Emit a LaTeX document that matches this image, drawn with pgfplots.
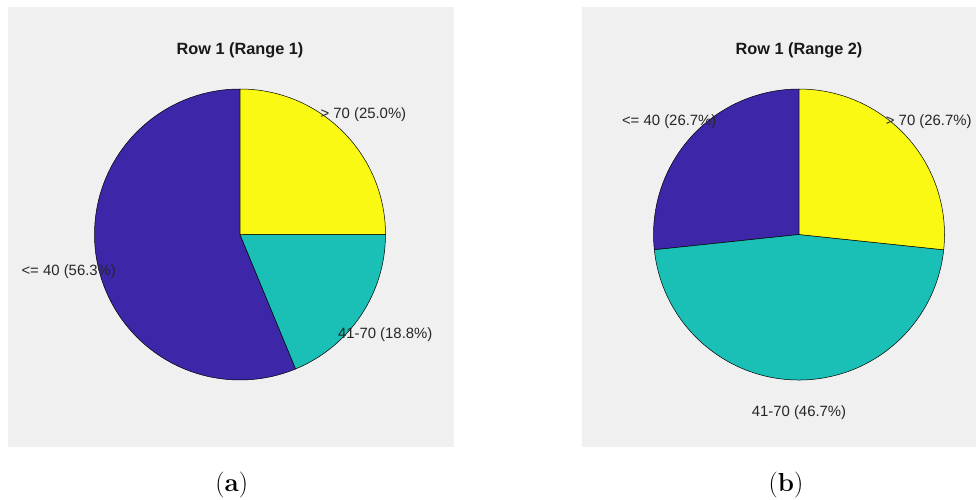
\documentclass[border=0pt]{standalone}
\usepackage{fontspec}
\usepackage{pgfplots}
\usepackage{pgfplotstable}
\pgfplotsset{compat=1.18}

\newfontfamily\arial{Liberation Sans}

\definecolor{panelgray}{HTML}{F0F0F0}
\definecolor{pieA}{HTML}{3D26A8}
\definecolor{pieB}{HTML}{1ABFB6}
\definecolor{pieC}{HTML}{F9F914}

% share of each age group, in per cent
\pgfplotstableread[col sep=comma]{
name,pct,colour
<= 40,56.3,pieA
41-70,18.8,pieB
> 70,25.0,pieC
}\rangeone

\pgfplotstableread[col sep=comma]{
name,pct,colour
<= 40,26.7,pieA
41-70,46.7,pieB
> 70,26.7,pieC
}\rangetwo

\newcommand\pieR{145.5pt}
\newcommand\labelfont{\arial\fontsize{14.9}{16}\selectfont}
\newcommand\titlefont{\arial\bfseries\fontsize{16.3}{18}\selectfont}

% slices run counter-clockwise from the top, labels sit at 1.2 radii
\newcommand\drawpie[1]{%
  \pgfplotstablegetrowsof{#1}%
  \pgfmathtruncatemacro\lastrow{\pgfplotsretval-1}%
  \gdef\pietotal{0}%
  \foreach \r in {0,...,\lastrow}{%
    \pgfplotstablegetelem{\r}{pct}\of{#1}%
    \pgfmathsetmacro\tmp{\pietotal+\pgfplotsretval}%
    \xdef\pietotal{\tmp}}%
  \gdef\pieangle{90}%
  \foreach \r in {0,...,\lastrow}{%
    \pgfplotstablegetelem{\r}{pct}\of{#1}\let\pct\pgfplotsretval
    \pgfplotstablegetelem{\r}{name}\of{#1}\let\nm\pgfplotsretval
    \pgfplotstablegetelem{\r}{colour}\of{#1}\let\col\pgfplotsretval
    \pgfmathsetmacro\share{\pct/\pietotal}%
    \pgfmathsetmacro\endangle{\pieangle+360*\share}%
    \pgfmathsetmacro\midangle{(\pieangle+\endangle)/2}%
    \filldraw[fill=\col, draw=black, line width=0.5pt]
      (axis cs:0,0) -- (axis cs:{cos(\pieangle)},{sin(\pieangle)})
      arc[start angle=\pieangle, end angle=\endangle, radius=\pieR] -- cycle;
    \node[font=\labelfont, text=black!85, inner sep=0pt, yshift=-3.5pt]
      at (axis cs:{1.2*cos(\midangle)},{1.2*sin(\midangle)})
      {\nm\ (\pgfmathprintnumber[fixed,fixed zerofill,precision=1,assume math mode=true]{\pct}\%)};
    \xdef\pieangle{\endangle}}%
}

\pgfplotsset{
  pieaxis/.style={
    x=\pieR, y=\pieR,
    xmin=-1.2, xmax=1.2, ymin=-1.2, ymax=1.2,
    hide axis, clip=false, anchor=origin,
  },
}

\begin{document}
\begin{tikzpicture}
  \useasboundingbox (0,0) rectangle (976pt,-499pt);
  \fill[panelgray] (8pt,-7pt) rectangle (454pt,-446.7pt);
  \fill[panelgray] (582pt,-7pt) rectangle (976pt,-446.7pt);

  \begin{axis}[pieaxis, at={(240pt,-234.5pt)}]
    \pgfplotsextra{\drawpie{\rangeone}}
    \node[font=\titlefont, text=black!90] at (axis cs:0,1.265) {Row 1 (Range 1)};
  \end{axis}

  \begin{axis}[pieaxis, at={(799pt,-234.5pt)}]
    \pgfplotsextra{\drawpie{\rangetwo}}
    \node[font=\titlefont, text=black!90] at (axis cs:0,1.265) {Row 1 (Range 2)};
  \end{axis}

  \node[font=\fontsize{26}{28}\selectfont] at (231.7pt,-485pt) {(\textbf{a})};
  \node[font=\fontsize{26}{28}\selectfont] at (786pt,-485pt) {(\textbf{b})};
\end{tikzpicture}
\end{document}
